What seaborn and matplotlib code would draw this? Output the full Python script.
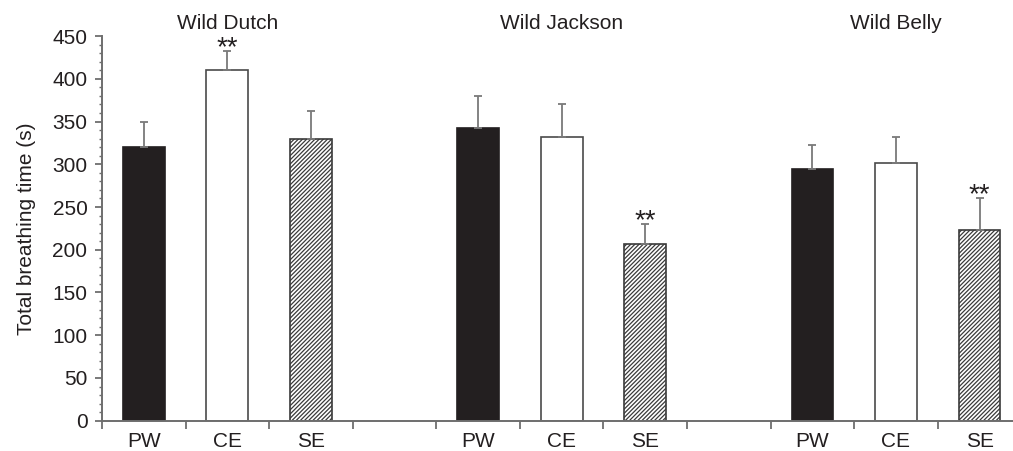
import numpy as np
import pandas as pd
import matplotlib
matplotlib.use("Agg")
import matplotlib.pyplot as plt
import seaborn as sns

# ---- data ----
groups = ["Wild Dutch", "Wild Jackson", "Wild Belly"]
conditions = ["PW", "CE", "SE"]
means = {
    "Wild Dutch":   [320, 410, 329],
    "Wild Jackson": [343, 332, 207],
    "Wild Belly":   [294, 301, 223],
}
err_tops = {
    "Wild Dutch":   [350, 432, 362],
    "Wild Jackson": [380, 371, 230],
    "Wild Belly":   [323, 332, 260],
}
significant = {
    "Wild Dutch":   [False, True, False],
    "Wild Jackson": [False, False, True],
    "Wild Belly":   [False, False, True],
}
yticks = [0, 50, 100, 150, 200, 250, 300, 350, 400, 450]

sns.set_theme(style="ticks")
plt.rcParams["font.family"] = ["Liberation Sans", "DejaVu Sans"]
plt.rcParams["hatch.linewidth"] = 0.9
plt.rcParams["hatch.color"] = "#3a3a3a"

rows = []
order = []
for gi, g in enumerate(groups):
    for ci, c in enumerate(conditions):
        slot = f"{g}|{c}"
        order.append(slot)
        rows.append({"slot": slot, "group": g, "cond": c,
                     "value": means[g][ci], "top": err_tops[g][ci],
                     "sig": significant[g][ci]})
    if gi < len(groups) - 1:
        order.append(f"gap{gi}")
df = pd.DataFrame(rows)

fig = plt.figure(figsize=(10.13, 4.51), dpi=100)
ax = fig.add_axes([0.1007, 0.0672, 0.8993, 0.8528])

palette = {"PW": "#231f20", "CE": "#ffffff", "SE": "#ffffff"}
sns.barplot(data=df, x="slot", y="value", hue="cond", order=order,
            hue_order=conditions, palette=palette, dodge=False, width=0.5,
            errorbar=None, legend=False, ax=ax, saturation=1)

axis_col = "#6e6e6e"
text_col = "#231f20"
for ci, cont in enumerate(ax.containers):
    for p in cont:
        p.set_linewidth(1.2)
        if conditions[ci] == "PW":
            p.set_edgecolor("#231f20")
        elif conditions[ci] == "CE":
            p.set_edgecolor("#4a4a4a")
        else:
            p.set_edgecolor("#3a3a3a")
            p.set_hatch("////////")

# error bars (upward only)
xpos = np.array([order.index(s) for s in df["slot"]])
vals = df["value"].to_numpy()
tops = df["top"].to_numpy()
ax.errorbar(xpos, vals, yerr=[np.zeros_like(vals), tops - vals], fmt="none",
            ecolor="#7a7a7a", elinewidth=1.3, capsize=2.8, capthick=1.3, zorder=1)

# significance stars
for x, t, s in zip(xpos, tops, df["sig"]):
    if s:
        ax.annotate("**", (x, t), xytext=(0, -3), textcoords="offset points",
                    ha="center", va="baseline", fontsize=20, color=text_col)

# group titles
for g in groups:
    x = order.index(f"{g}|CE")
    ax.text(x, 1.0174, g, transform=ax.get_xaxis_transform(), ha="center",
            va="baseline", fontsize=15, color=text_col)

ax.set_xlim(-0.5, 10.4)
ax.set_ylim(0, 450)
ax.set_yticks(yticks)
ax.set_yticks(np.arange(0, 451, 10), minor=True)
ax.set_yticklabels([str(v) for v in yticks])

centers = [order.index(s) for s in df["slot"]]
ax.set_xticks(centers)
ax.set_xticklabels(df["cond"].tolist())
ax.set_xticks(np.arange(-0.5, 10.5, 1.0), minor=True)
ax.tick_params(axis="x", which="major", length=0, pad=8, labelsize=15, labelcolor=text_col)
ax.tick_params(axis="x", which="minor", length=5.8, width=1.3, color=axis_col, direction="out")
ax.tick_params(axis="y", which="major", length=5, width=1.3, color=axis_col, labelsize=15,
               labelcolor=text_col, pad=5.5)
ax.tick_params(axis="y", which="minor", length=2, width=1.0, color=axis_col)

ax.set_xlabel("")
ax.set_ylabel("Total breathing time (s)", fontsize=15, color=text_col, labelpad=12)

for side in ["top", "right"]:
    ax.spines[side].set_visible(False)
for side in ["left", "bottom"]:
    ax.spines[side].set_color(axis_col)
    ax.spines[side].set_linewidth(1.4)

fig.savefig("out.png", dpi=100)
